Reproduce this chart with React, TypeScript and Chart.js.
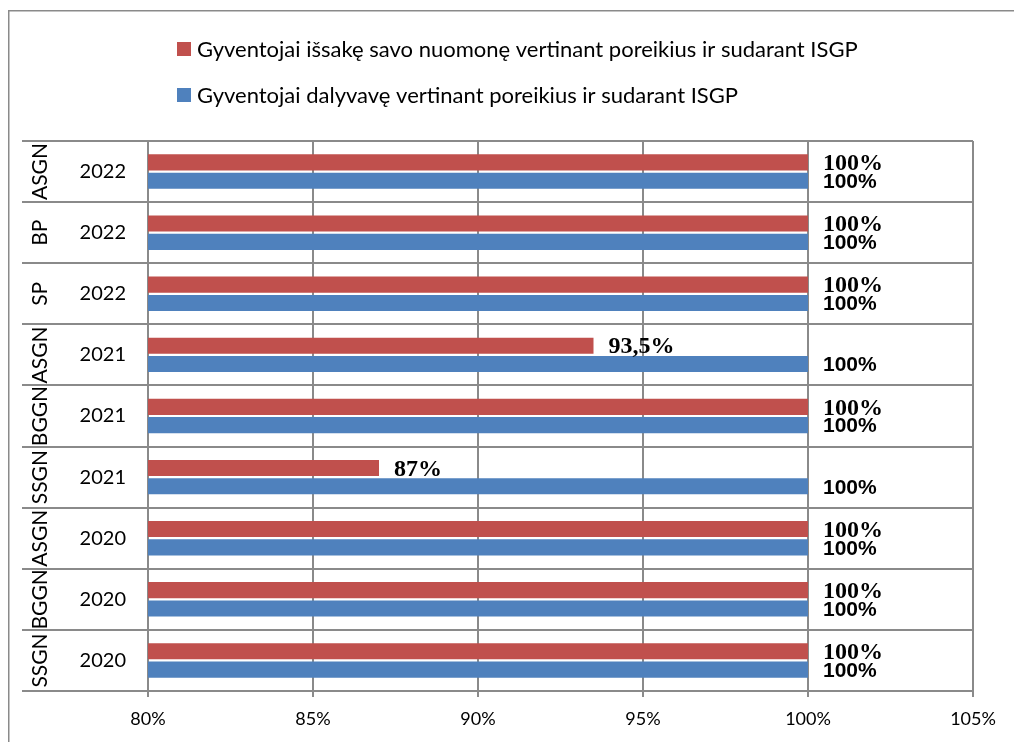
import { useEffect, useRef } from 'react';
import { Chart, registerables } from 'chart.js';

Chart.register(...registerables);

const groups = ['ASGN', 'BP', 'SP', 'ASGN', 'BGGN', 'SSGN', 'ASGN', 'BGGN', 'SSGN'];
const years = ['2022', '2022', '2022', '2021', '2021', '2021', '2020', '2020', '2020'];
const expressed = [100, 100, 100, 93.5, 100, 87, 100, 100, 100];
const participated = [100, 100, 100, 100, 100, 100, 100, 100, 100];
const seriesLabels = [
  'Gyventojai išsakę savo nuomonę vertinant poreikius ir sudarant ISGP',
  'Gyventojai dalyvavę vertinant poreikius ir sudarant ISGP',
];
const seriesColors = ['#C0504D', '#4F81BD'];
const xMin = 80;
const xMax = 105;
const xStep = 5;

const GRID = '#8a8a8a';
const SANS = 'Lato';

const framePlugin = {
  id: 'frame',
  beforeDraw(chart: any) {
    const ctx = chart.ctx;
    ctx.save();
    ctx.fillStyle = '#ffffff';
    ctx.fillRect(0, 0, chart.width, chart.height);
    ctx.strokeStyle = '#8a8a8a';
    ctx.lineWidth = 1.5;
    ctx.beginPath();
    ctx.moveTo(8.75, chart.height);
    ctx.lineTo(8.75, 10.75);
    ctx.lineTo(chart.width, 10.75);
    ctx.stroke();
    ctx.restore();
  },
};

const legendPlugin = {
  id: 'customLegend',
  afterDraw(chart: any) {
    const ctx = chart.ctx;
    ctx.save();
    ctx.font = `22px ${SANS}`;
    ctx.textBaseline = 'middle';
    ctx.textAlign = 'left';
    chart.data.datasets.forEach((ds: any, i: number) => {
      const cy = 49 + i * 46;
      ctx.fillStyle = ds.backgroundColor;
      ctx.fillRect(177, cy - 7, 14, 14);
      ctx.fillStyle = '#000000';
      ctx.fillText(ds.label, 197, cy + 1);
    });
    ctx.restore();
  },
};

const groupLabelPlugin = {
  id: 'groupLabels',
  afterDraw(chart: any) {
    const ctx = chart.ctx;
    const yScale = chart.scales.y;
    ctx.save();
    ctx.font = `21px ${SANS}`;
    ctx.fillStyle = '#000000';
    ctx.textAlign = 'center';
    ctx.textBaseline = 'middle';
    groups.forEach((g, i) => {
      const y = yScale.getPixelForValue(i);
      ctx.save();
      ctx.translate(40, y);
      ctx.rotate(-Math.PI / 2);
      ctx.fillText(g, 0, 0);
      ctx.restore();
    });
    ctx.restore();
  },
};

const fmt = (v: number) => String(v).replace('.', ',') + '%';

const valueLabelPlugin = {
  id: 'valueLabels',
  afterDatasetsDraw(chart: any) {
    const ctx = chart.ctx;
    ctx.save();
    ctx.fillStyle = '#000000';
    ctx.textAlign = 'left';
    ctx.textBaseline = 'middle';
    chart.data.datasets.forEach((ds: any, di: number) => {
      const meta = chart.getDatasetMeta(di);
      ctx.font = di === 0 ? 'bold 24px "Liberation Serif"' : 'bold 21px "Liberation Sans"';
      meta.data.forEach((el: any, i: number) => {
        ctx.fillText(fmt(ds.data[i]), el.x + 15, el.y + 1.5);
      });
    });
    ctx.restore();
  },
};

export default function App() {
  const ref = useRef<HTMLCanvasElement | null>(null);

  useEffect(() => {
    if (!ref.current) return;
    const chart = new Chart(ref.current, {
      type: 'bar',
      data: {
        labels: years,
        datasets: [
          {
            label: seriesLabels[0],
            data: expressed,
            backgroundColor: seriesColors[0],
            categoryPercentage: 0.6,
            barPercentage: 0.88,
          },
          {
            label: seriesLabels[1],
            data: participated,
            backgroundColor: seriesColors[1],
            categoryPercentage: 0.6,
            barPercentage: 0.88,
          },
        ],
      },
      options: {
        indexAxis: 'y',
        animation: false,
        responsive: false,
        devicePixelRatio: 1,
        layout: { padding: { left: 22, right: 41, top: 141, bottom: 0 } },
        plugins: {
          legend: { display: false },
          tooltip: { enabled: false },
        },
        scales: {
          x: {
            type: 'linear',
            position: 'bottom',
            min: xMin,
            max: xMax,
            ticks: {
              stepSize: xStep,
              callback: (v: any) => v + '%',
              font: { family: SANS, size: 18 },
              color: '#000000',
              padding: 11,
            },
            grid: { color: GRID, lineWidth: 2, tickLength: 6, drawTicks: true },
            border: { color: GRID, width: 2 },
            afterFit: (scale: any) => {
              scale.height = 51;
            },
          },
          y: {
            type: 'category',
            position: 'left',
            offset: true,
            ticks: {
              font: { family: SANS, size: 20 },
              color: '#000000',
              padding: -104,
            },
            grid: { color: GRID, lineWidth: 2, offset: true, tickLength: 126, drawTicks: true },
            border: { color: GRID, width: 2 },
            afterFit: (scale: any) => {
              scale.width = 126;
            },
          },
        },
      },
      plugins: [framePlugin, legendPlugin, groupLabelPlugin, valueLabelPlugin],
    });
    return () => chart.destroy();
  }, []);

  return (
    <div style={{ position: 'absolute', left: 0, top: 0, width: 1014, height: 742, overflow: 'hidden' }}>
      <canvas ref={ref} width={1014} height={742} style={{ display: 'block' }} />
    </div>
  );
}
